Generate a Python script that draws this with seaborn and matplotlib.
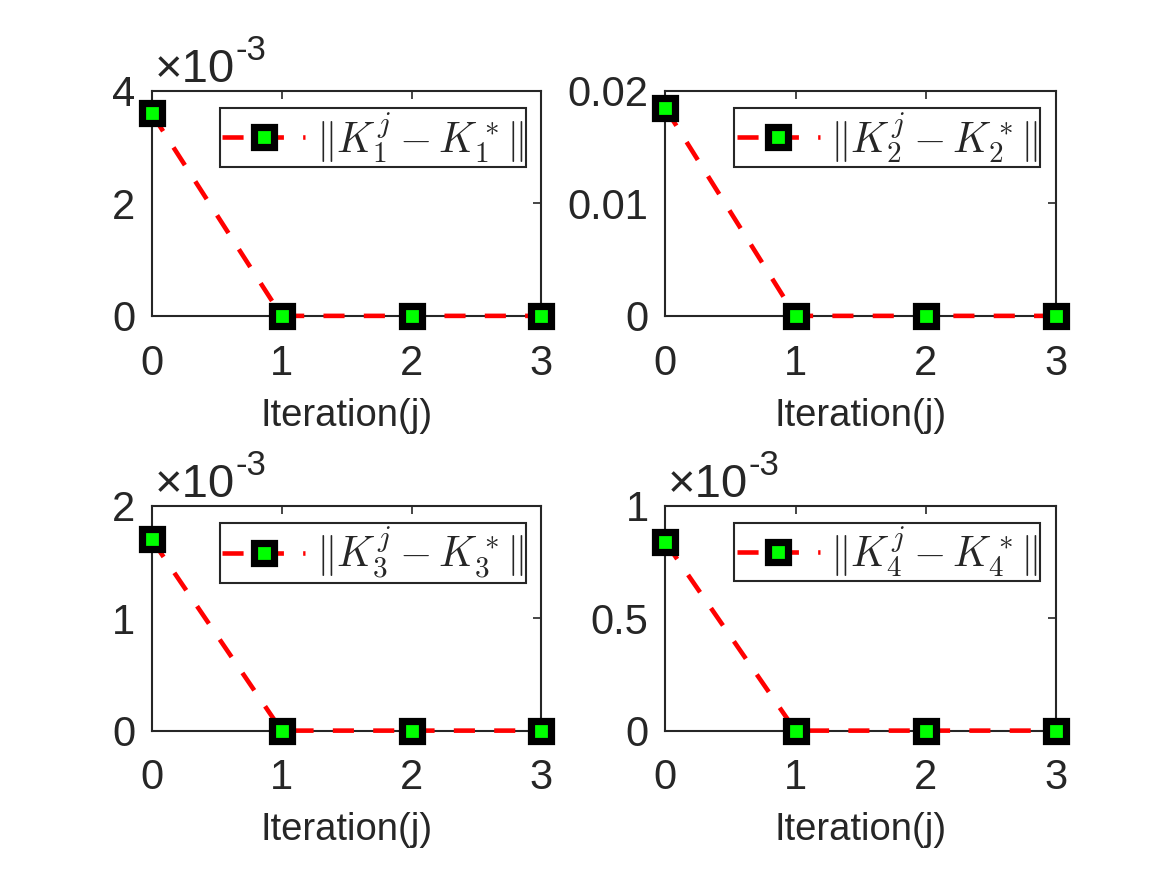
import numpy as np
import pandas as pd
import matplotlib
matplotlib.use('Agg')
import matplotlib.pyplot as plt
import seaborn as sns

# data
iterations = [0, 1, 2, 3]
k1_err = [3.6e-3, 0.0, 0.0, 0.0]
k2_err = [0.0185, 0.0, 0.0, 0.0]
k3_err = [1.7e-3, 0.0, 0.0, 0.0]
k4_err = [0.84e-3, 0.0, 0.0, 0.0]

ylims = [(0, 4e-3), (0, 0.02), (0, 2e-3), (0, 1e-3)]
yticks = [[0, 2e-3, 4e-3], [0, 0.01, 0.02], [0, 1e-3, 2e-3], [0, 0.5e-3, 1e-3]]
yticklabels = [['0', '2', '4'], ['0', '0.01', '0.02'], ['0', '1', '2'], ['0', '0.5', '1']]
has_offset = [True, False, True, True]
labels = [r'$\|K_1^j-K_1^*\|$', r'$\|K_2^j-K_2^*\|$', r'$\|K_3^j-K_3^*\|$', r'$\|K_4^j-K_4^*\|$']

sns.set_style('white')
plt.rcParams['font.family'] = ['Liberation Sans', 'DejaVu Sans']
plt.rcParams['mathtext.fontset'] = 'cm'

fig = plt.figure(figsize=(11.67, 8.75), dpi=100)
positions = [[0.130, 0.639, 0.334, 0.257], [0.570, 0.639, 0.335, 0.257],
             [0.130, 0.165, 0.334, 0.257], [0.570, 0.165, 0.335, 0.257]]

series = [k1_err, k2_err, k3_err, k4_err]
dark = '#262626'

for i in range(4):
    ax = fig.add_axes(positions[i])
    df = pd.DataFrame({'Iteration': iterations, 'err': series[i]})
    sns.lineplot(data=df, x='Iteration', y='err', ax=ax, color='red',
                 linestyle=(0, (4.6, 4.2)), linewidth=3.3, marker='s', markersize=14,
                 markerfacecolor='#00ff00', markeredgecolor='black', markeredgewidth=5.2,
                 clip_on=False, label=labels[i], zorder=5)
    ax.set_xlim(0, 3)
    ax.set_ylim(*ylims[i])
    ax.set_xticks(iterations)
    ax.set_xticklabels([str(v) for v in iterations])
    ax.set_yticks(yticks[i])
    ax.set_yticklabels(yticklabels[i])
    ax.tick_params(axis='both', direction='in', length=6, width=1.2, colors=dark,
                   labelsize=30, top=True, right=True, labelcolor=dark)
    ax.tick_params(axis='x', pad=20)
    ax.tick_params(axis='y', pad=12)
    ax.set_xlabel('Iteration(j)', fontsize=27.5, color=dark, labelpad=10)
    ax.set_ylabel('')
    for sp in ax.spines.values():
        sp.set_color(dark)
        sp.set_linewidth(1.5)
    leg = ax.legend(loc='upper right', bbox_to_anchor=(0.96, 0.925), borderaxespad=0,
                    fontsize=30, fancybox=False, framealpha=1, edgecolor=dark,
                    handlelength=2.0, handletextpad=0.25, borderpad=0.05)
    leg.get_frame().set_linewidth(1.5)
    if has_offset[i]:
        ax.annotate('\u00d710', xy=(0, 1), xycoords='axes fraction', xytext=(2, 6.5),
                    textcoords='offset points', ha='left', va='baseline',
                    fontsize=34, color=dark)
        ax.annotate('-3', xy=(0, 1), xycoords='axes fraction', xytext=(60, 22),
                    textcoords='offset points', ha='left', va='baseline',
                    fontsize=25, color=dark)

fig.savefig('out.png', dpi=100)
